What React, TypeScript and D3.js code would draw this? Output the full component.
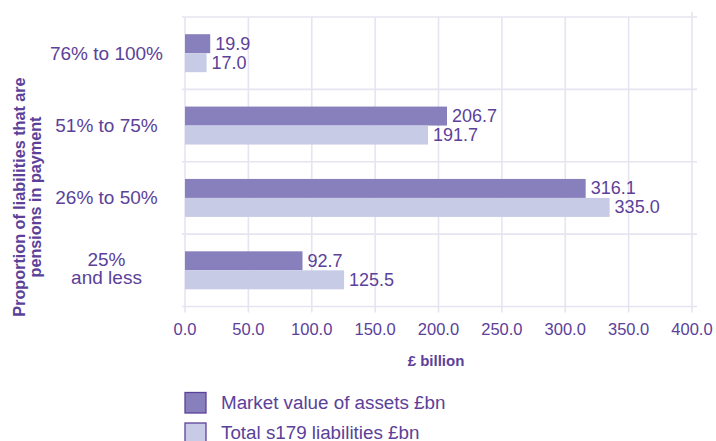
import React from "react";
import * as d3 from "d3";

const categories = ["76% to 100%", "51% to 75%", "26% to 50%", "25%\nand less"];
const seriesNames = ["Market value of assets £bn", "Total s179 liabilities £bn"];
const marketValue = [19.9, 206.7, 316.1, 92.7];
const liabilities = [17.0, 191.7, 335.0, 125.5];
const xTicks = [0, 50, 100, 150, 200, 250, 300, 350, 400];
const xTitle = "£ billion";
const yTitleLines = ["Proportion of liabilities that are", "pensions in payment"];

const W = 716;
const H = 441;
const TEXT = "#5b4199";
const DARK = "#8780bc";
const LIGHT = "#c8cbe6";
const GRID = "#e6e4f0";
const FONT = "'Liberation Sans', Arial, Helvetica, sans-serif";

export default function App() {
  const x = d3.scaleLinear().domain([0, 400]).range([185, 692]);
  const y = d3.scaleBand<string>().domain(categories).range([17, 306.5]).padding(0);
  const bw = y.bandwidth();
  const groupH = 38;
  const sub = d3
    .scaleBand<string>()
    .domain(seriesNames)
    .range([(bw - groupH) / 2, (bw + groupH) / 2])
    .padding(0);
  const seriesData = [marketValue, liabilities];
  const colors = [DARK, LIGHT];
  const separators = [...categories.map((c) => y(c) as number), 306.5];

  return (
    <svg
      width={W}
      height={H}
      style={{ position: "absolute", left: 0, top: 0, background: "#fff" }}
      fontFamily={FONT}
    >
      {/* vertical gridlines */}
      {xTicks.map((t, i) => (
        <line
          key={"vg" + t}
          x1={x(t)}
          x2={x(t)}
          y1={i === xTicks.length - 1 ? 12 : 17}
          y2={312.5}
          stroke={GRID}
          strokeWidth={1.6}
        />
      ))}
      {/* horizontal separators */}
      {separators.map((s, i) => (
        <line key={"hg" + i} x1={182} x2={697} y1={s} y2={s} stroke={GRID} strokeWidth={1.6} />
      ))}
      {/* bars */}
      {categories.map((c, ci) =>
        seriesNames.map((s, si) => {
          const v = seriesData[si][ci];
          const by = (y(c) as number) + (sub(s) as number);
          const bh = sub.bandwidth();
          return (
            <g key={c + s}>
              <rect x={x(0)} y={by} width={x(v) - x(0)} height={bh} fill={colors[si]} />
              <text
                x={x(v) + 5}
                y={by + bh / 2 + 6}
                fontSize={18}
                fill={TEXT}
              >
                {v.toFixed(1)}
              </text>
            </g>
          );
        })
      )}
      {/* category labels */}
      {categories.map((c) => {
        const lines = c.split("\n");
        const cy = (y(c) as number) + bw / 2;
        return (
          <text key={"cl" + c} x={106.5} textAnchor="middle" fontSize={19} fill={TEXT}>
            {lines.length === 1 ? (
              <tspan x={106.5} y={cy + 6.5}>
                {lines[0]}
              </tspan>
            ) : (
              lines.map((l, li) => (
                <tspan key={li} x={106.5} y={cy - 4 + li * 18}>
                  {l}
                </tspan>
              ))
            )}
          </text>
        );
      })}
      {/* x tick labels */}
      {xTicks.map((t) => (
        <text key={"xt" + t} x={x(t)} y={335} textAnchor="middle" fontSize={16.5} fill={TEXT}>
          {t.toFixed(1)}
        </text>
      ))}
      {/* x title */}
      <text x={436} y={366} textAnchor="middle" fontSize={15} fontWeight="bold" fill={TEXT}>
        {xTitle}
      </text>
      {/* y title */}
      <g transform="translate(0,197) rotate(-90)">
        {yTitleLines.map((l, i) => (
          <text
            key={"yt" + i}
            x={0}
            y={24.5 + i * 16.5}
            textAnchor="middle"
            fontSize={16.2}
            fontWeight="bold"
            fill={TEXT}
          >
            {l}
          </text>
        ))}
      </g>
      {/* legend */}
      {seriesNames.map((s, i) => (
        <g key={"lg" + s} transform={`translate(0, ${i * 30.5})`}>
          <rect x={185} y={392.5} width={21} height={20.5} fill={colors[i]} stroke={TEXT} strokeWidth={1.3} />
          <text x={221} y={408.5} fontSize={18.8} fill={TEXT}>
            {s}
          </text>
        </g>
      ))}
    </svg>
  );
}
